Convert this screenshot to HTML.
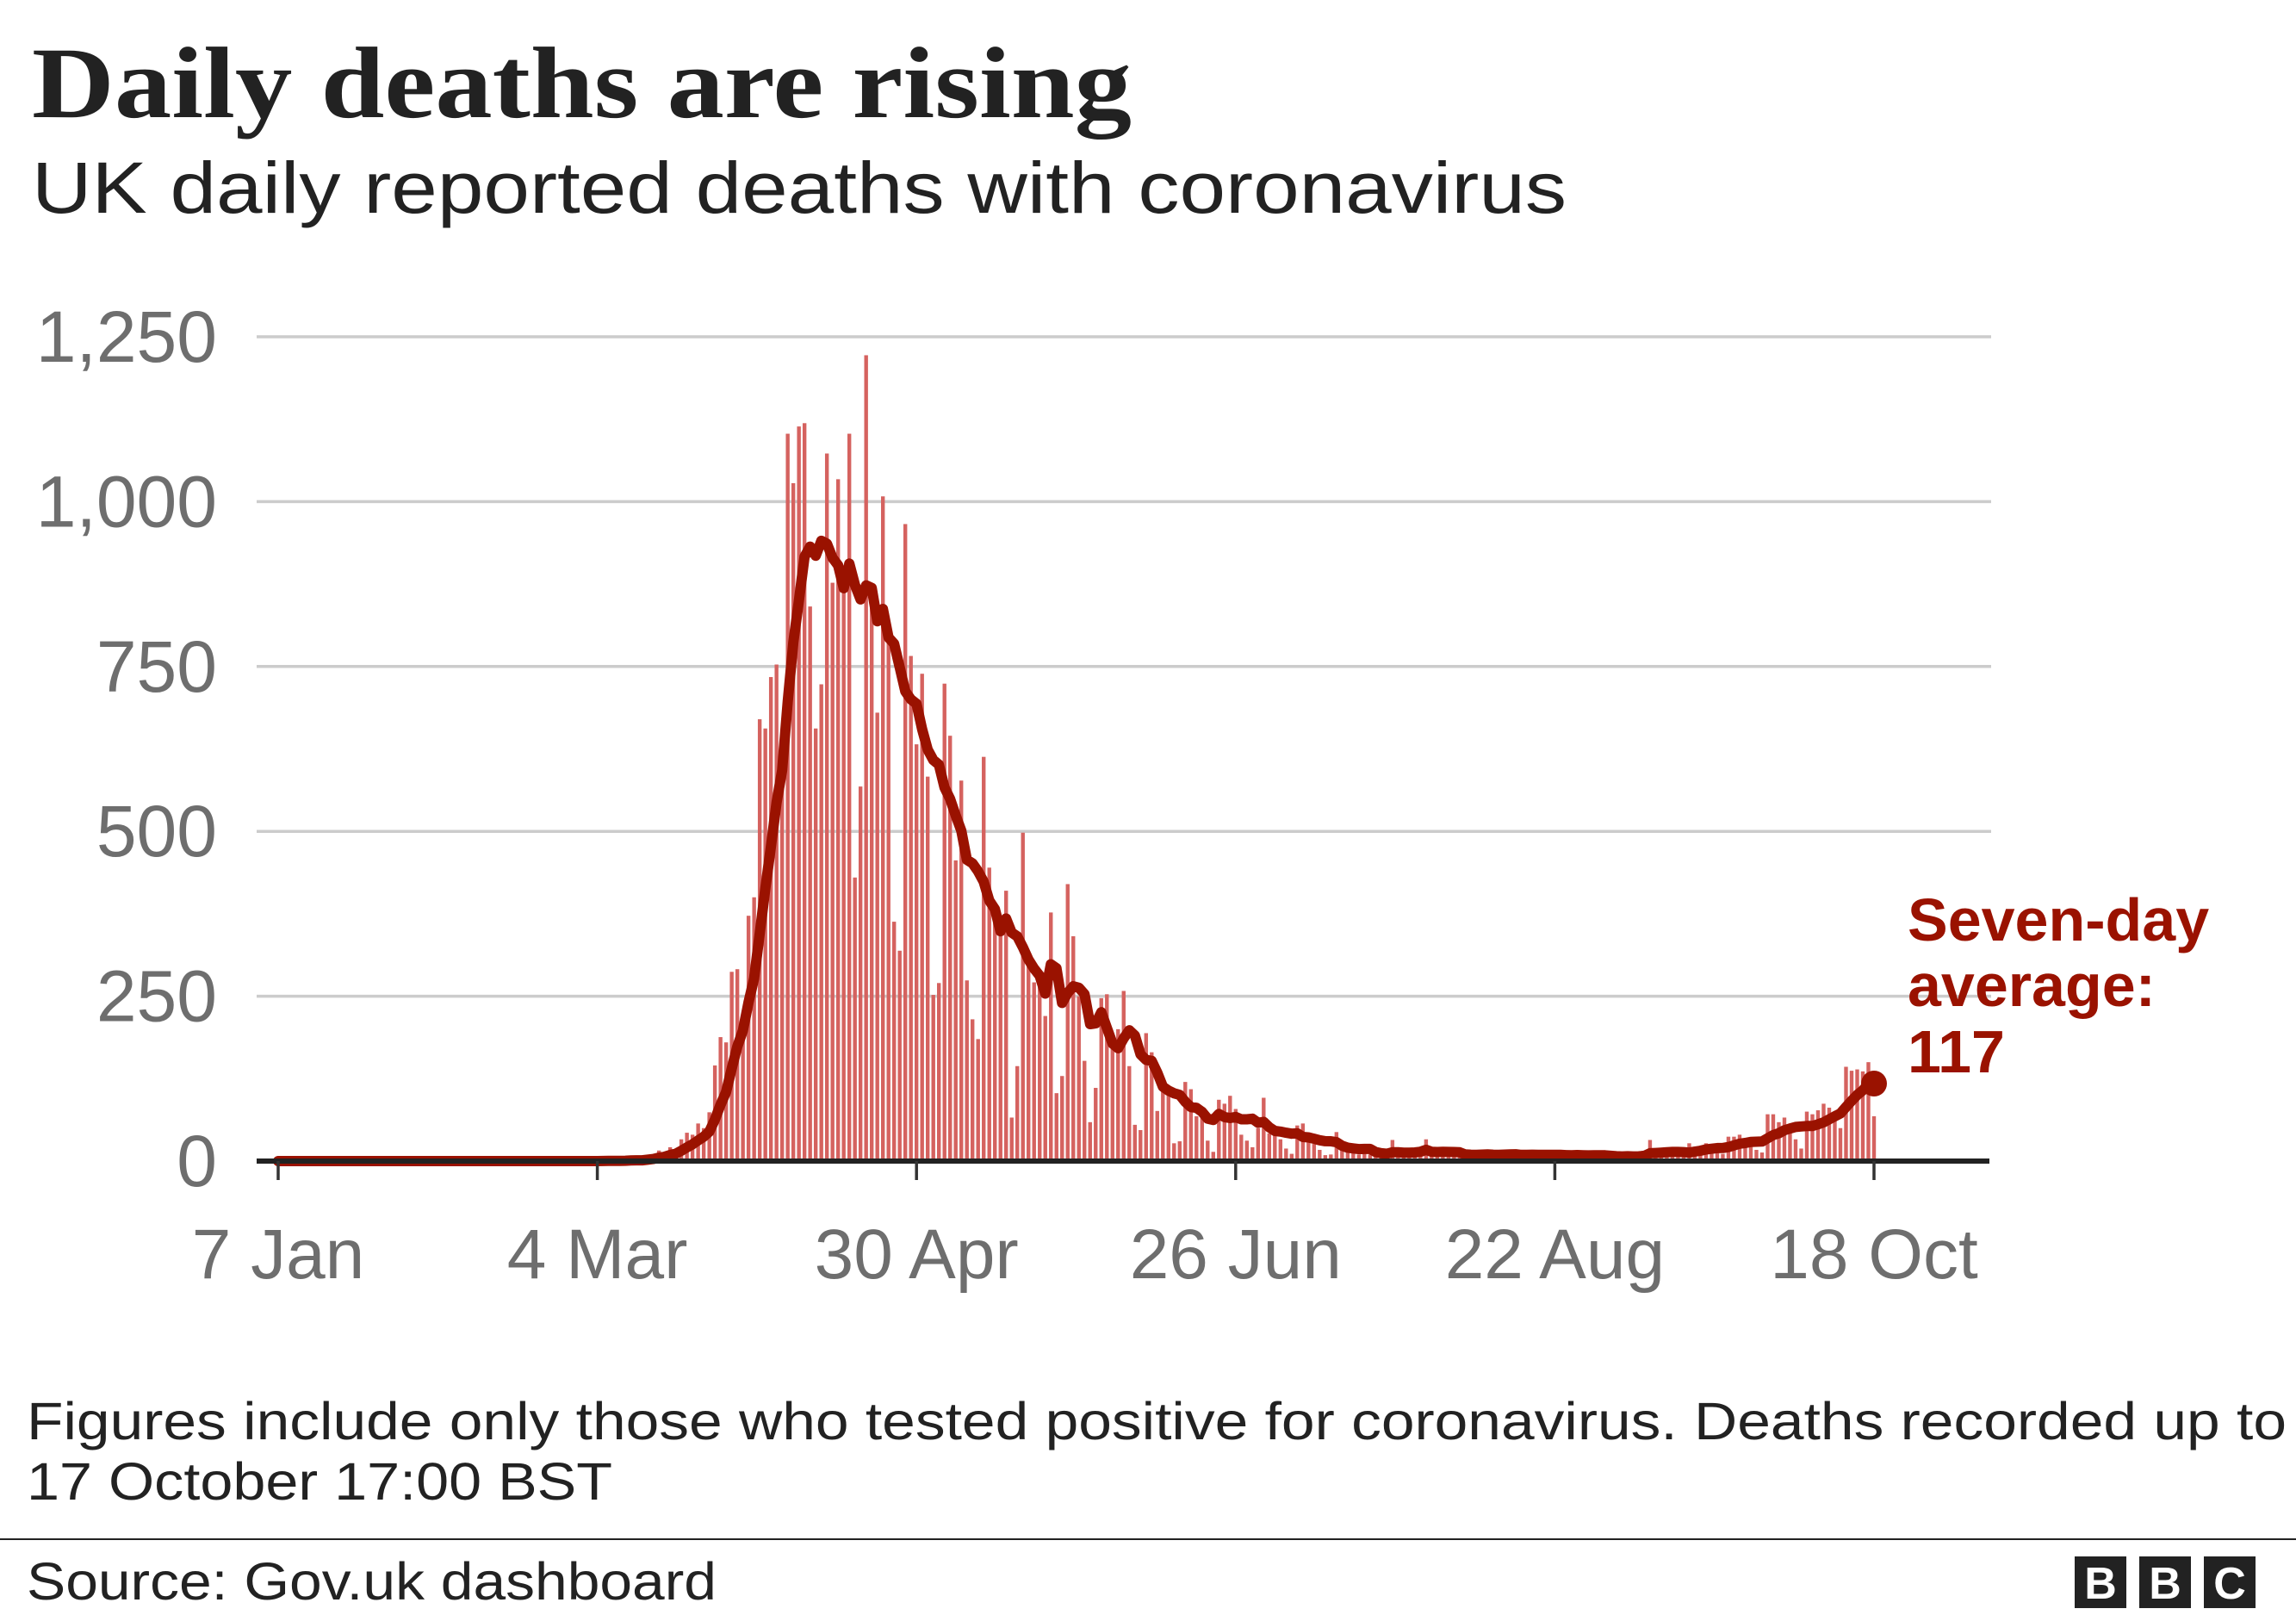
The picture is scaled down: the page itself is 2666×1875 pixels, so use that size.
<!DOCTYPE html>
<html><head><meta charset="utf-8"><style>
html,body{margin:0;padding:0;background:#fff;}
svg{display:block;}
</style></head><body>
<svg id="chart" width="2666" height="1875" viewBox="0 0 2666 1875" xmlns="http://www.w3.org/2000/svg">
<text x="37" y="136" font-family="Liberation Serif, serif" font-weight="bold" font-size="118" fill="#222" textLength="1277" lengthAdjust="spacingAndGlyphs">Daily deaths are rising</text>
<text x="37" y="247" font-family="Liberation Sans, sans-serif" font-size="84" fill="#222" textLength="1782" lengthAdjust="spacingAndGlyphs">UK daily reported deaths with coronavirus</text>
<g id="grid"></g>
<g id="bars"></g>
<g id="avg"></g>
<g id="xaxis"></g>
<text font-family="Liberation Sans, sans-serif" font-weight="bold" font-size="70" fill="#9a1200">
<tspan x="2215" y="1092">Seven-day</tspan><tspan x="2215" y="1168">average:</tspan><tspan x="2215" y="1245">117</tspan></text>
<text font-family="Liberation Sans, sans-serif" font-size="61" fill="#222">
<tspan x="31" y="1671" textLength="2624" lengthAdjust="spacingAndGlyphs">Figures include only those who tested positive for coronavirus. Deaths recorded up to</tspan><tspan x="31" y="1741" textLength="680" lengthAdjust="spacingAndGlyphs">17 October 17:00 BST</tspan></text>
<rect x="0" y="1786" width="2666" height="2" fill="#222"/>
<text x="31" y="1857" font-family="Liberation Sans, sans-serif" font-size="61" fill="#222" textLength="801" lengthAdjust="spacingAndGlyphs">Source: Gov.uk dashboard</text>
<g font-family="Liberation Sans, sans-serif" font-weight="bold" font-size="52" fill="#fff" text-anchor="middle">
<rect x="2409" y="1807" width="60" height="60" fill="#222"/><rect x="2484" y="1807" width="60" height="60" fill="#222"/><rect x="2559" y="1807" width="60" height="60" fill="#222"/>
<text x="2439" y="1856">B</text><text x="2514" y="1856">B</text><text x="2589" y="1856">C</text>
</g>
</svg>
<script>
const yTicks = [0, 250, 500, 750, 1000, 1250];
const yTickLabels = ["0", "250", "500", "750", "1,000", "1,250"];
const xTickDays = [0, 57, 114, 171, 228, 285];
const xTickLabels = ["7 Jan", "4 Mar", "30 Apr", "26 Jun", "22 Aug", "18 Oct"];
// daily deaths from 7 Jan (day 0) to 18 Oct
const preMarch = [0,0,0,0,0,0,0,0,0,0,0,0,0,0,0,0,0,0,0,0,0,0,0,0,0,0,0,0,0,0,0,0,0,0,0,0,0,0,0,0,0,0,0,0,0,0,0,0,0,0,0,0,0,0];
const march = [0,0,0,0,1,1,0,1,1,2,2,1,8,7,16,10,21,15,33,43,40,57,50,74,145,188,180,287,291,220,372];
const april = [400,670,656,734,753,565,1103,1028,1114,1119,841,656,723,1073,877,1034,877,1103,430,568,1222,850,680,1008,800,363,319,966,766,632];
const may = [739,583,252,270,724,645,456,577,274,215,185,613,445,366,341,410,66,144,498,314,271,265,220,377,103,129,420,341,250,152,59];
const june = [111,247,253,176,200,258,144,55,47,194,165,76,108,103,27,30,120,109,68,65,31,14,93,87,99,79,40,31,21,50];
const july = [96,42,40,33,19,11,54,57,37,26,17,9,10,44,20,17,17,10,11,10,11,7,12,32,10,8,10,12,15,33,10];
const august = [8,10,9,11,12,10,8,7,12,10,9,11,12,10,8,6,10,11,9,12,10,8,6,7,9,12,10,8,9,7,6];
const september = [5,6,8,10,7,8,12,32,9,12,14,10,8,10,27,20,21,27,18,15,11,37,37,40,34,30,17,13,71,71];
const october = [59,66,49,33,19,75,71,77,87,81,65,50,143,137,139,136,150,68];
const deaths = [].concat(preMarch, march, april, may, june, july, august, september, october);

const NS = "http://www.w3.org/2000/svg";
const X0 = 323, PX_PER_DAY = (2176 - 323) / 285;
const Y0 = 1348, PX_PER_UNIT = (1348 - 391) / 1250;
const xScale = d => X0 + d * PX_PER_DAY;
const yScale = v => Y0 - v * PX_PER_UNIT;
function mk(tag, attrs, parent){const e=document.createElementNS(NS,tag);for(const k in attrs)e.setAttribute(k,attrs[k]);parent.appendChild(e);return e;}

const grid = document.getElementById('grid');
yTicks.forEach((v,i)=>{
  if (v>0){
    const l = mk('line',{x1:298,x2:2312,y1:yScale(v),y2:yScale(v),stroke:'#cccccc','stroke-width':3.5},grid);
    
    
  }
  const t = mk('text',{x:252,y:yScale(v)+29,'text-anchor':'end','font-family':'Liberation Sans, sans-serif','font-size':84,fill:'#6e6e6e'},grid);
  t.textContent = yTickLabels[i];
  
  
});

const bars = document.getElementById('bars');
deaths.forEach((v,d)=>{
  if (v<=0) return;
  const r = mk('rect',{x:xScale(d)-2.2,y:yScale(v),width:4.4,height:Y0-yScale(v),fill:'#d5625f'},bars);
  
  
});

const avg = deaths.map((v,i)=>{let s=0,n=0;for(let j=Math.max(0,i-6);j<=i;j++){s+=deaths[j];n++;}return s/n;});
const ag = document.getElementById('avg');
const pts = avg.map((v,d)=>xScale(d).toFixed(1)+','+yScale(v).toFixed(1)).join(' ');
const pl = mk('polyline',{points:pts,fill:'none',stroke:'#9a1200','stroke-width':12,'stroke-linejoin':'round','stroke-linecap':'round'},ag);


const last = avg.length-1;
const dot = mk('circle',{cx:xScale(last),cy:yScale(avg[last]),r:15,fill:'#9a1200'},ag);



const xa = document.getElementById('xaxis');
const axis = mk('rect',{x:298,y:Y0-3,width:2012,height:6,fill:'#222'},xa);


xTickDays.forEach((d,i)=>{
  const tk = mk('rect',{x:xScale(d)-1.75,y:Y0,width:3.5,height:22,fill:'#333'},xa);
  
  
  const t = mk('text',{x:xScale(d),y:1484,'text-anchor':'middle','font-family':'Liberation Sans, sans-serif','font-size':82,fill:'#6e6e6e'},xa);
  t.textContent = xTickLabels[i];
  
  
});
</script>
</body></html>
